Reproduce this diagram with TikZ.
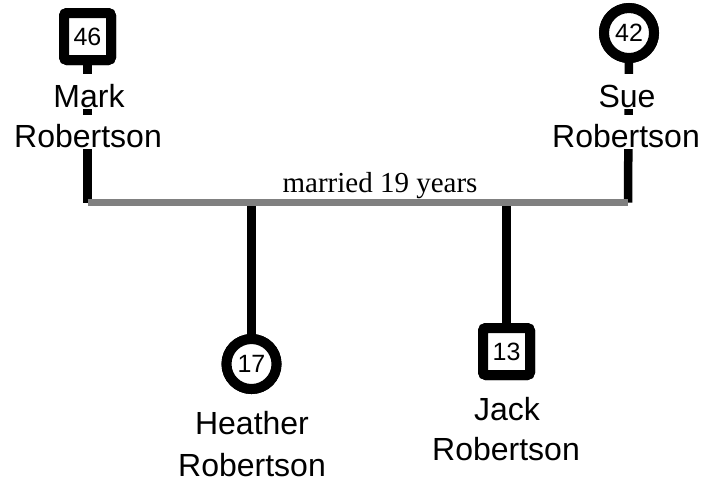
\documentclass[tikz,border=0pt]{standalone}
\usepackage{fontspec}
\setmainfont{Liberation Sans}
\newfontfamily\serifface{Liberation Serif}
\begin{document}
\begin{tikzpicture}[x=1pt,y=-1pt,
  malesym/.style={draw=black, line width=10pt, fill=white, rectangle,
    rounded corners=3pt, minimum size=47pt, inner sep=0pt,
    font=\fontsize{25}{25}\selectfont},
  femalesym/.style={draw=black, line width=10pt, fill=white, circle,
    minimum size=50pt, inner sep=0pt, font=\fontsize{25}{25}\selectfont},
  namebox/.style={fill=white, inner xsep=0pt, inner ysep=0pt,
    text height=33pt, text depth=1.5pt, anchor=base,
    font=\fontsize{32}{32}\selectfont},
  kinline/.style={draw=black, line width=8.5pt},
  marriage/.style={draw=black!50, line width=7pt},
]
\useasboundingbox (0,0) rectangle (704,483);

% parents
\node[malesym] (mark) at (87.5,36.5) {46};
\node[femalesym] (sue) at (629,33) {42};

% ends of the marriage bar and the drops to the children
\coordinate (barL) at (87.5,202.5);
\coordinate (barR) at (628,202.5);
\coordinate (dropH) at (251.5,202.5);
\coordinate (dropJ) at (506.5,202.5);

% children
\node[femalesym] (heather) at (251.5,364) {17};
\node[malesym] (jack) at (506.5,351.5) {13};

% lines from the parents down to the bar
\draw[kinline] (mark.center) -- (barL);
\draw[kinline] (sue.center) -- (barR);
% lines from the bar down to the children
\draw[kinline] (dropH) -- (heather.center);
\draw[kinline] (dropJ) -- (jack.center);

% symbols again, on top of their lines
\node[malesym] at (mark) {46};
\node[femalesym] at (sue) {42};
\node[femalesym] at (heather) {17};
\node[malesym] at (jack) {13};

% names, each line on its own white patch
\node[namebox] (markA) at (89,107) {Mark};
\node[namebox] (markB) at (88,147.5) {Robertson};
\node[namebox] (sueA) at (627,107) {Sue};
\node[namebox] (sueB) at (626,147.5) {Robertson};
\node[namebox] (heatherA) at (252,434.5) {Heather};
\node[namebox] (heatherB) at (252,476.5) {Robertson};
\node[namebox] (jackA) at (507,420) {Jack};
\node[namebox] (jackB) at (506,460.5) {Robertson};

% marriage bar
\draw[marriage] (barL) -- (barR);
\node[anchor=base, inner sep=0pt, font=\serifface\fontsize{29}{29}\selectfont]
  (years) at (380,192) {married 19 years};
\end{tikzpicture}
\end{document}
